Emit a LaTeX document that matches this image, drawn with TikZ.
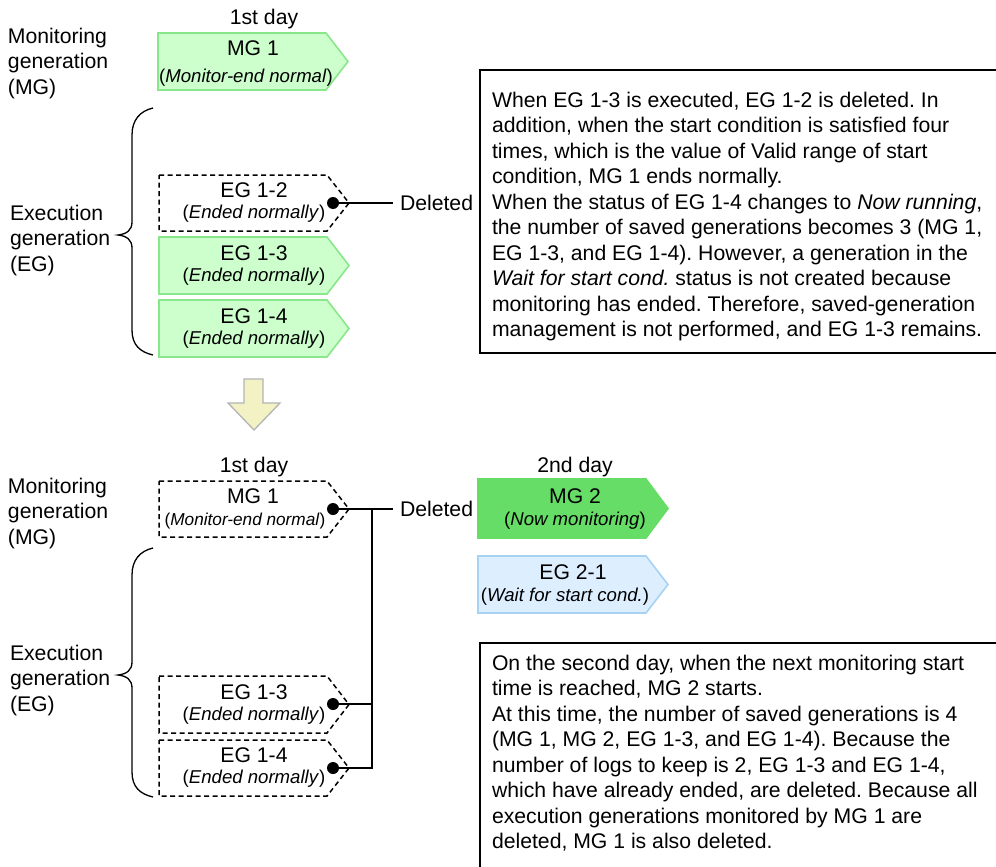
\documentclass[tikz,border=0pt]{standalone}
\usepackage{fontspec}
\setmainfont{Liberation Sans}
\frenchspacing
\definecolor{lgfill}{HTML}{CCFFCC}
\definecolor{lgline}{HTML}{8AE68A}
\definecolor{dgfill}{HTML}{66DD66}
\definecolor{lbfill}{HTML}{DDEEFF}
\definecolor{lbline}{HTML}{A8D2F2}
\definecolor{arrfill}{HTML}{F2F2C4}
\definecolor{arrline}{HTML}{B4B4B4}
\newcommand\tagpath[4]{%
  \draw[#1] (#2,#3) -- ({#2+168},#3) -- ({#2+190},{(#3+#4)/2}) -- ({#2+168},#4) -- (#2,#4) -- cycle;}
\newcommand\bracepath[3]{%
  \draw[bracestyle] (153,#1) .. controls (140,{#1+3}) and (132,{#1+12}) .. (132,{#1+27})
    -- (132,{#2-13}) .. controls (132,{#2-5}) and (127,{#2-1}) .. (118,#2)
    .. controls (127,{#2+1}) and (132,{#2+5}) .. (132,{#2+13})
    -- (132,{#3-25}) .. controls (132,{#3-10}) and (140,{#3-3}) .. (153,#3);}
\begin{document}
\begin{tikzpicture}[x=1pt,y=-1pt,
  every node/.style={inner sep=0pt, outer sep=0pt},
  big/.style={font=\fontsize{21.2}{25.5}\selectfont},
  small/.style={font=\fontsize{18.6}{22}\selectfont},
  lbl/.style={big, align=left, anchor=north west},
  ttl/.style={big, anchor=base},
  stat/.style={small, anchor=base},
  greentag/.style={fill=lgfill, draw=lgline, line width=1.6pt},
  darktag/.style={fill=dgfill, draw=dgfill, line width=1.6pt},
  bluetag/.style={fill=lbfill, draw=lbline, line width=1.6pt},
  deadtag/.style={draw=black, line width=1.5pt, dash pattern=on 5pt off 3.5pt},
  bracestyle/.style={draw=black, line width=1.3pt},
  dotnode/.style={circle, fill=black, minimum size=12pt},
  deltext/.style={big, inner xsep=7pt},
  conn/.style={draw=black, line width=1.5pt},
  textbox/.style={draw=black, line width=1.5pt}]
\useasboundingbox (0,0) rectangle (996,867);

% ---------------- upper part ----------------
\node[ttl] (day1a) at (264,25) {1st day};
\node[lbl] (mglabA) at (8,28) {Monitoring\\generation\\(MG)};
\node[lbl] (eglabA) at (10,205) {Execution\\generation\\(EG)};
\bracepath{108}{235}{355}

\tagpath{greentag}{158}{33}{90}
\node[ttl] (mg1A) at (253,56) {MG 1};
\node[stat] (mg1Astat) at (246,82) {(\textit{Monitor-end normal})};

\tagpath{deadtag}{159}{175}{231}
\node[ttl] (eg12) at (254,197) {EG 1-2};
\node[stat] (eg12stat) at (254,218) {(\textit{Ended normally})};
\node[dotnode] (d12) at (333,203) {};
\node[deltext, anchor=west] (del1) at (393,203) {Deleted};
\draw[conn] (d12.center) -- (del1.west);

\tagpath{greentag}{159}{237}{294}
\node[ttl] (eg13A) at (254,260) {EG 1-3};
\node[stat] (eg13Astat) at (254,281) {(\textit{Ended normally})};

\tagpath{greentag}{159}{300}{357}
\node[ttl] (eg14A) at (254,323) {EG 1-4};
\node[stat] (eg14Astat) at (254,344) {(\textit{Ended normally})};

\draw[textbox] (480,70) rectangle (1000,353);
\node[lbl] (noteA) at (492,92) {When EG 1-3 is executed, EG 1-2 is deleted. In\\
addition, when the start condition is satisfied four\\
times, which is the value of Valid range of start\\
condition, MG 1 ends normally.\\
When the status of EG 1-4 changes to \textit{Now running},\\
the number of saved generations becomes 3 (MG 1,\\
EG 1-3, and EG 1-4). However, a generation in the\\
\textit{Wait for start cond.} status is not created because\\
monitoring has ended. Therefore, saved-generation\\
management is not performed, and EG 1-3 remains.};

% ---------------- arrow ----------------
\draw[fill=arrfill, draw=arrline, line width=1.3pt, line join=miter]
  (244,379) -- (263,379) -- (263,403) -- (280,403) -- (254,430) -- (228,403) -- (244,403) -- cycle;

% ---------------- lower part ----------------
\node[ttl] (day1b) at (254,472) {1st day};
\node[ttl] (day2b) at (575,472) {2nd day};
\node[lbl] (mglabB) at (8,478) {Monitoring\\generation\\(MG)};
\node[lbl] (eglabB) at (10,645) {Execution\\generation\\(EG)};
\bracepath{548}{675}{797}

\tagpath{deadtag}{159}{481}{537}
\node[ttl] (mg1B) at (253,503) {MG 1};
\node[stat, font=\fontsize{17.2}{20}\selectfont] (mg1Bstat) at (245,525) {(\textit{Monitor-end normal})};
\node[dotnode] (dm1) at (333,509) {};
\node[deltext, anchor=west] (del2) at (393,509) {Deleted};
\coordinate (junc) at (372,509);
\draw[conn] (dm1.center) -- (del2.west);

\tagpath{darktag}{478}{479}{538}
\node[ttl] (mg2) at (575,503) {MG 2};
\node[stat] (mg2stat) at (575,525) {(\textit{Now monitoring})};

\tagpath{bluetag}{478}{556}{613}
\node[ttl] (eg21) at (573,579) {EG 2-1};
\node[stat] (eg21stat) at (565,601) {(\textit{Wait for start cond.})};

\tagpath{deadtag}{159}{676}{733}
\node[ttl] (eg13B) at (254,699) {EG 1-3};
\node[stat] (eg13Bstat) at (254,720) {(\textit{Ended normally})};
\node[dotnode] (d13) at (333,704) {};

\tagpath{deadtag}{159}{740}{796}
\node[ttl] (eg14B) at (254,762) {EG 1-4};
\node[stat] (eg14Bstat) at (254,783) {(\textit{Ended normally})};
\node[dotnode] (d14) at (333,768) {};

\draw[conn] (d13.center) -- (d13 -| junc);
\draw[conn] (d14.center) -| (junc);

\draw[textbox] (480,643) rectangle (1000,880);
\node[lbl] (noteB) at (492,655) {On the second day, when the next monitoring start\\
time is reached, MG 2 starts.\\
At this time, the number of saved generations is 4\\
(MG 1, MG 2, EG 1-3, and EG 1-4). Because the\\
number of logs to keep is 2, EG 1-3 and EG 1-4,\\
which have already ended, are deleted. Because all\\
execution generations monitored by MG 1 are\\
deleted, MG 1 is also deleted.};
\end{tikzpicture}
\end{document}
